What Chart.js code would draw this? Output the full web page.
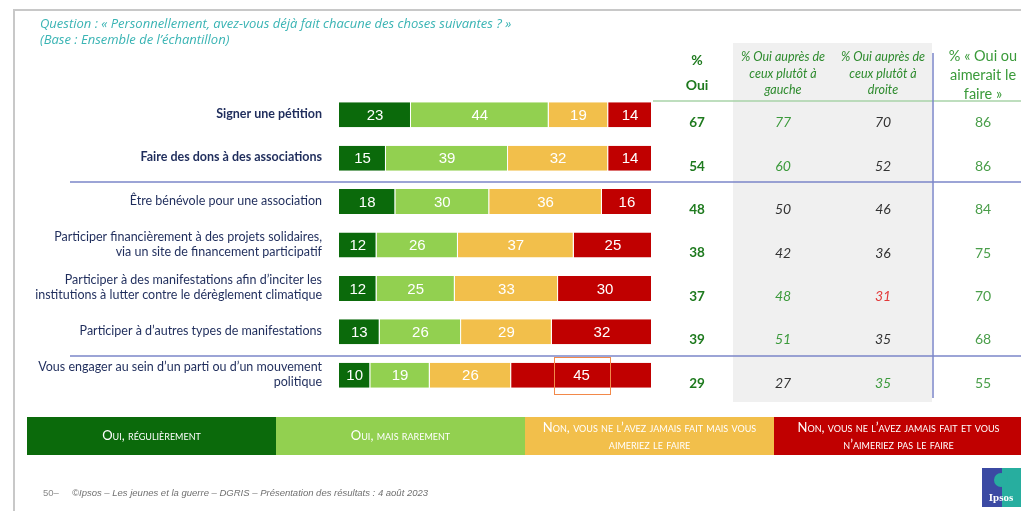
<!DOCTYPE html>
<html lang="fr">
<head>
  <meta charset="UTF-8" />
  <title>Personnellement, avez-vous déjà fait chacune des choses suivantes ?</title>
  <script src="https://cdn.jsdelivr.net/npm/chart.js"></script>
  <style>
    html, body { margin: 0; padding: 0; background: #fff; }
    #wrap { position: relative; width: 1021px; height: 511px; }
  </style>
</head>
<body>
  <div id="wrap"><canvas id="chart" width="1021" height="511"></canvas></div>

  <script>
    // libellés des items (une entrée par ligne affichée)
    const categories = [
      ["Signer une pétition"],
      ["Faire des dons à des associations"],
      ["Être bénévole pour une association"],
      ["Participer financièrement à des projets solidaires,", "via un site de financement participatif"],
      ["Participer à des manifestations afin d’inciter les", "institutions à lutter contre le dérèglement climatique"],
      ["Participer à d’autres types de manifestations"],
      ["Vous engager au sein d’un parti ou d’un mouvement", "politique"]
    ];
    const boldRows = [true, true, false, false, false, false, false];

    const ouiRegulierement = [23, 15, 18, 12, 12, 13, 10];
    const ouiRarement = [44, 39, 30, 26, 25, 26, 19];
    const nonAimerait = [19, 32, 36, 37, 33, 29, 26];
    const nonJamais = [14, 14, 16, 25, 30, 32, 45];

    const pctOui = [67, 54, 48, 38, 37, 39, 29];
    const ouiGauche = [77, 60, 50, 42, 48, 51, 27];
    const ouiDroite = [70, 52, 46, 36, 31, 35, 35];
    const ouiOuAimerait = [86, 86, 84, 75, 70, 68, 55];
    // différences significatives : "+" supérieur, "-" inférieur
    const sigGauche = ["+", "+", "", "", "+", "+", ""];
    const sigDroite = ["", "", "", "", "-", "", "+"];

    const legendLabels = [
      ["Oui, régulièrement"],
      ["Oui, mais rarement"],
      ["Non, vous ne l’avez jamais fait mais vous", "aimeriez le faire"],
      ["Non, vous ne l’avez jamais fait et vous", "n’aimeriez pas le faire"]
    ];

    const couleurs = ["#0b6a0b", "#92d050", "#f2bf4b", "#c00000"];
    const sigColor = { "+": "#3c9a3c", "-": "#e23a3a", "": "#333333" };

    function txt(ctx, s, x, y, font, color, align) {
      ctx.font = font;
      ctx.fillStyle = color;
      ctx.textAlign = align || "center";
      ctx.textBaseline = "middle";
      ctx.fillText(s, x, y);
    }

    const decor = {
      id: "decor",
      beforeDatasetsDraw(chart) {
        const ctx = chart.ctx;
        const y = chart.scales.y;
        ctx.save();
        // cadre gris
        ctx.strokeStyle = "#c8c8c8";
        ctx.lineWidth = 2;
        ctx.beginPath();
        ctx.moveTo(14, 520); ctx.lineTo(14, 10); ctx.lineTo(1030, 10);
        ctx.stroke();
        // zone grisée des sous-populations
        ctx.fillStyle = "#f0f0f0";
        ctx.fillRect(733, 43, 199, 359);
        // trait vert sous les en-têtes
        ctx.strokeStyle = "#a9d3a9";
        ctx.lineWidth = 1.5;
        ctx.beginPath(); ctx.moveTo(653, 101); ctx.lineTo(1021, 101); ctx.stroke();
        // séparateurs bleus
        ctx.strokeStyle = "#7b86c8";
        ctx.lineWidth = 1.5;
        [1.5, 5.5].forEach(v => {
          const py = Math.round(y.getPixelForValue(v)) + 2;
          ctx.beginPath(); ctx.moveTo(70, py); ctx.lineTo(1021, py); ctx.stroke();
        });
        ctx.beginPath(); ctx.moveTo(933, 53); ctx.lineTo(933, 398); ctx.stroke();
        ctx.restore();
      },
      afterDatasetsDraw(chart) {
        const ctx = chart.ctx;
        const y = chart.scales.y;
        ctx.save();

        // valeurs dans les barres
        chart.data.datasets.forEach((ds, di) => {
          chart.getDatasetMeta(di).data.forEach((bar, i) => {
            const p = bar.getProps(["x", "y", "base"], true);
            txt(ctx, String(ds.data[i]), (p.x + p.base) / 2, p.y + 1, "15px 'Liberation Sans', Arial", "#ffffff");
          });
        });

        // encadré orange autour du 45
        const b = chart.getDatasetMeta(3).data[6].getProps(["x", "y", "base"], true);
        const cx = (b.x + b.base) / 2;
        ctx.strokeStyle = "#f2894a";
        ctx.lineWidth = 1;
        ctx.strokeRect(Math.round(cx - 28) + 0.5, Math.round(b.y - 18) + 0.5, 56, 37);

        // libellés des items
        categories.forEach((lines, i) => {
          const cy = y.getPixelForValue(i) - 1;
          const font = boldRows[i] ? "bold 12.5px Lato, 'Open Sans', sans-serif" : "12.5px Lato, 'Open Sans', sans-serif";
          lines.forEach((l, k) => {
            txt(ctx, l, 322, cy + (k - (lines.length - 1) / 2) * 15, font, "#1f2d5c", "right");
          });
        });

        // en-têtes de colonnes
        txt(ctx, "%", 697, 60, "bold 14px Lato, sans-serif", "#1e7a1e");
        txt(ctx, "Oui", 697, 85, "bold 14px Lato, sans-serif", "#1e7a1e");
        const hG = ["% Oui auprès de", "ceux plutôt à", "gauche"];
        const hD = ["% Oui auprès de", "ceux plutôt à", "droite"];
        hG.forEach((l, k) => txt(ctx, l, 783, 57 + k * 16.5, "italic 12.5px Lato, sans-serif", "#2e8b2e"));
        hD.forEach((l, k) => txt(ctx, l, 883, 57 + k * 16.5, "italic 12.5px Lato, sans-serif", "#2e8b2e"));
        ["% « Oui ou", "aimerait le", "faire »"].forEach((l, k) =>
          txt(ctx, l, 983, 56 + k * 19, "14.5px Lato, sans-serif", "#3a9a3a"));

        // colonnes de valeurs
        categories.forEach((_, i) => {
          const vy = y.getPixelForValue(i) + 8;
          txt(ctx, String(pctOui[i]), 697, vy, "bold 13.5px Lato, sans-serif", "#1e7a1e");
          txt(ctx, String(ouiGauche[i]), 783, vy, "italic 14px Lato, sans-serif", sigColor[sigGauche[i]]);
          txt(ctx, String(ouiDroite[i]), 883, vy, "italic 14px Lato, sans-serif", sigColor[sigDroite[i]]);
          txt(ctx, String(ouiOuAimerait[i]), 983, vy, "14px Lato, sans-serif", "#4a9e4a");
        });

        // question
        txt(ctx, "Question : « Personnellement, avez-vous déjà fait chacune des choses suivantes ? »", 40, 24, "italic 13px 'Open Sans', sans-serif", "#3ab4b4", "left");
        txt(ctx, "(Base : Ensemble de l’échantillon)", 40, 40, "italic 13px 'Open Sans', sans-serif", "#3ab4b4", "left");

        // légende
        const lw = 249, lx = 27, ly = 417, lh = 38;
        legendLabels.forEach((lines, i) => {
          ctx.fillStyle = couleurs[i];
          ctx.fillRect(lx + i * lw, ly, lw, lh);
          lines.forEach((l, k) => {
            txt(ctx, l, lx + i * lw + lw / 2, ly + lh / 2 + (k - (lines.length - 1) / 2) * 17,
              "small-caps 13px Lato, sans-serif", "#ffffff");
          });
        });

        // pied de page
        txt(ctx, "50–", 43, 493, "9.5px 'Liberation Sans', Arial", "#8a8a8a", "left");
        txt(ctx, "©Ipsos – Les jeunes et la guerre – DGRIS – Présentation des résultats : 4 août 2023", 72, 493,
          "italic 9.5px 'Liberation Sans', Arial", "#707070", "left");

        // logo Ipsos
        ctx.fillStyle = "#3b4aa3";
        ctx.fillRect(982, 468, 39, 39);
        ctx.fillStyle = "#27ae9f";
        ctx.fillRect(1002, 468, 19, 39);
        ctx.beginPath(); ctx.arc(1001, 480, 7, 0, Math.PI * 2); ctx.fill();
        txt(ctx, "Ipsos", 1001, 498, "bold 11px 'Liberation Serif', serif", "#ffffff");

        ctx.restore();
      }
    };

    const seriesLabels = legendLabels.map(l => l.join(" "));
    const series = [ouiRegulierement, ouiRarement, nonAimerait, nonJamais];

    new Chart(document.getElementById("chart").getContext("2d"), {
      type: "bar",
      data: {
        labels: categories.map(c => c.join(" ")),
        datasets: series.map((d, i) => ({
          label: seriesLabels[i],
          data: d,
          backgroundColor: couleurs[i],
          borderColor: "rgba(255,255,255,0.7)",
          borderWidth: { top: 0, bottom: 0, left: 0, right: 1 },
          borderSkipped: false,
          categoryPercentage: 1,
          barPercentage: 0.575
        }))
      },
      options: {
        indexAxis: "y",
        responsive: false,
        animation: false,
        layout: { padding: { left: 339, right: 369, top: 93, bottom: 114 } },
        plugins: { legend: { display: false }, tooltip: { enabled: false } },
        scales: {
          x: { display: false, stacked: true, min: 0, max: 100 },
          y: { display: false, stacked: true }
        }
      },
      plugins: [decor]
    });
  </script>
</body>
</html>
